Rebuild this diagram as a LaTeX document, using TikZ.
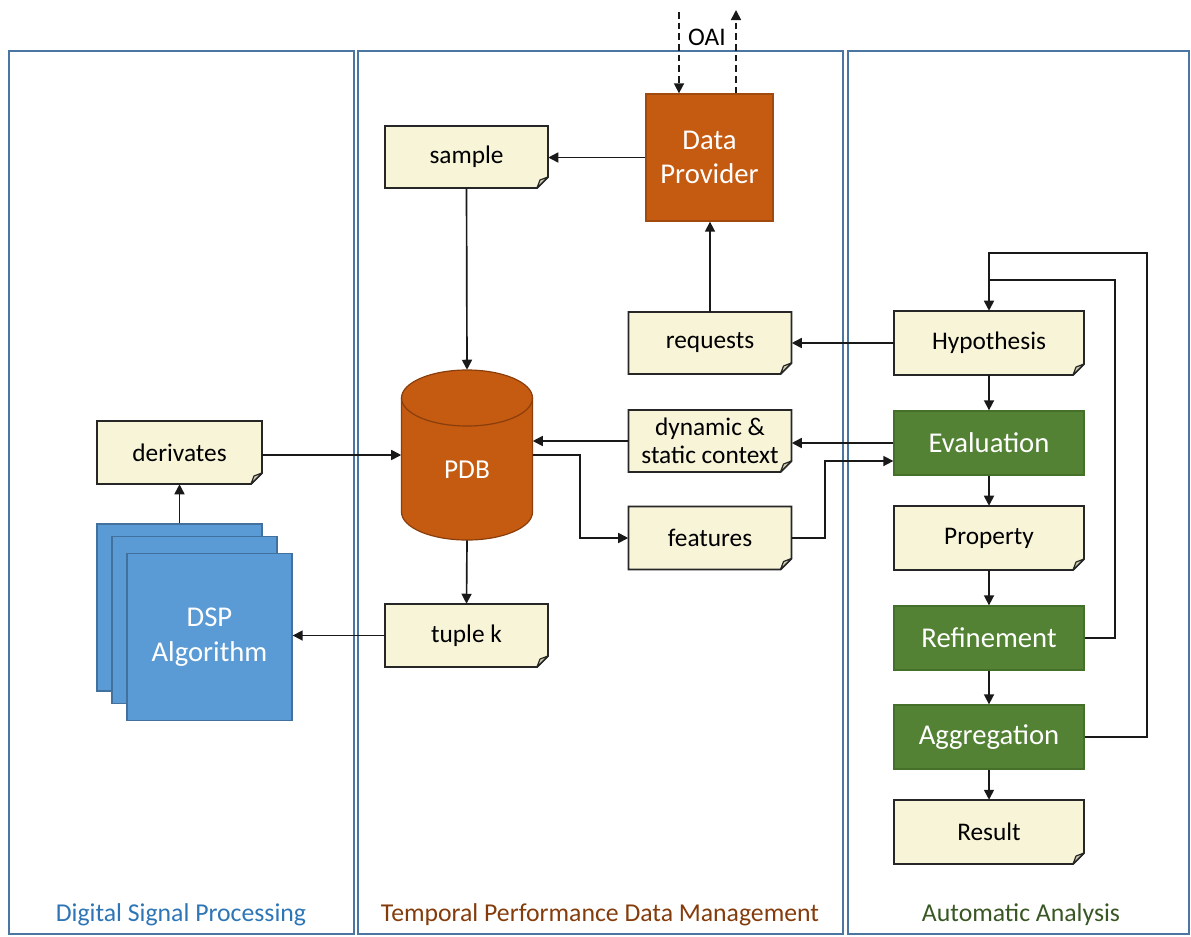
\documentclass[tikz,border=0pt]{standalone}
\usepackage{fontspec}
\setmainfont{Carlito}
\usetikzlibrary{arrows.meta,calc}
\definecolor{notefill}{HTML}{F8F4D8}
\definecolor{flapfill}{HTML}{D3CFB5}
\definecolor{dporange}{HTML}{C55A11}
\definecolor{dpborder}{HTML}{A04A10}
\definecolor{cylborder}{HTML}{8A3E0C}
\definecolor{aagreen}{HTML}{548235}
\definecolor{aaborder}{HTML}{44702A}
\definecolor{dspblue}{HTML}{5B9BD5}
\definecolor{dspborder}{HTML}{41719C}
\definecolor{panelouter}{HTML}{A9C0DA}
\definecolor{panelinner}{HTML}{4C76A2}
\definecolor{lblblue}{HTML}{2E75B6}
\definecolor{lblbrown}{HTML}{843C0C}
\definecolor{lblgreen}{HTML}{385723}
% note with a folded lower right corner:
% [node options]{name}{x}{y}{half width}{half height}{text}
\newcommand{\notebox}[7][]{%
  \filldraw[notebody] ({#3-#5},{#4-#6}) -- ({#3+#5},{#4-#6}) -- ({#3+#5},{#4+#6-11})
    -- ({#3+#5-11},{#4+#6}) -- ({#3-#5},{#4+#6}) -- cycle;
  \filldraw[noteflap] ({#3+#5-11},{#4+#6}) -- ({#3+#5},{#4+#6-11})
    -- ({#3+#5-8},{#4+#6-8}) -- cycle;
  \node[notetext, minimum width={#5*1.5pt}, minimum height={#6*1.5pt}, #1] (#2) at (#3,#4) {#7};%
}
\begin{document}
\begin{tikzpicture}[x=0.75pt,y=-0.75pt,
  font=\fontsize{19}{23}\selectfont,
  arr/.style={-{Triangle[length=7.5pt,width=7.5pt]}, line width=1.25pt, draw=black!90},
  link/.style={line width=1.25pt, draw=black!90},
  notebody/.style={draw=black!85, line width=1.4pt, fill=notefill, line join=miter},
  noteflap/.style={draw=black!85, line width=0.9pt, fill=flapfill, line join=round},
  notetext/.style={rectangle, text=black, inner sep=2pt},
  greenbox/.style={rectangle, draw=aaborder, line width=1pt, fill=aagreen, text=white,
    minimum width=142.5pt, minimum height=48pt, font=\fontsize{21.5}{25}\selectfont},
  dpbox/.style={rectangle, draw=dpborder, line width=1pt, fill=dporange, text=white,
    minimum width=95.25pt, minimum height=95.25pt, align=center,
    font=\fontsize{21.5}{25.5}\selectfont},
  dspbox/.style={rectangle, draw=dspborder, line width=1pt, fill=dspblue, text=white,
    minimum width=123.75pt, minimum height=125.25pt, align=center,
    font=\fontsize{21.5}{26}\selectfont},
  panel/.style={draw=panelouter, line width=2pt},
  panelline/.style={draw=panelinner, line width=1pt},
  paneltitle/.style={font=\fontsize{19.3}{22}\selectfont}]
\useasboundingbox (0,0) rectangle (1191,936);

% swim lanes
\foreach \xa/\xb in {9/354, 358/843, 848/1189}{
  \draw[panel] (\xa,51) rectangle (\xb,934);
  \draw[panelline] (\xa,51) rectangle (\xb,934);
}
\node[paneltitle, text=lblblue] (lanedsp) at (181,915) {Digital Signal Processing};
\node[paneltitle, text=lblbrown] (lanepdm) at (600,915) {Temporal Performance Data Management};
\node[paneltitle, text=lblgreen] (laneaa) at (1021,915) {Automatic Analysis};

% performance database cylinder
\fill[dporange] (401.5,398) -- (401.5,512)
  arc[start angle=180, end angle=0, x radius=65.5, y radius=28] -- (532.5,398) -- cycle;
\fill[dporange] (467,398) ellipse [x radius=65.5, y radius=28];
\draw[cylborder, line width=0.9pt] (401.5,398) -- (401.5,512)
  arc[start angle=180, end angle=0, x radius=65.5, y radius=28] -- (532.5,398);
\draw[cylborder, line width=0.9pt] (467,398) ellipse [x radius=65.5, y radius=28];
\node[minimum width=98.25pt, minimum height=127.5pt, inner sep=0pt] (pdb) at (467,455) {};
\node[text=white, font=\fontsize{20.5}{24}\selectfont] (pdblabel) at (467,470) {PDB};

% DSP algorithm stack
\node[dspbox] (dsp1) at (179.5,607.5) {};
\node[dspbox] (dsp2) at (194.5,620) {};
\node[dspbox] (dsp3) at (209.5,637) {DSP\\Algorithm};

% data provider and notes
\node[dpbox] (dp) at (709.5,157.5) {Data\\Provider};
\notebox{sample}{466.5}{157}{81.5}{31}{sample}
\notebox{req}{710}{343}{81.5}{31}{requests}
\notebox[align=center, font=\fontsize{19}{21}\selectfont]{dyn}{710}{441}{81.5}{31}{dynamic \&\\static context}
\notebox{feat}{710}{538}{81.5}{31.5}{features}
\notebox{tuple}{466.5}{635.5}{81.5}{31.5}{tuple k}
\notebox{der}{179.5}{452.5}{82.5}{31.5}{derivates}

% automatic analysis chain
\notebox{hyp}{989}{343}{95}{32}{Hypothesis}
\node[greenbox] (eval) at (989,443) {Evaluation};
\notebox{prop}{989}{538}{95}{32}{Property}
\node[greenbox] (refi) at (989,638) {Refinement};
\node[greenbox] (aggr) at (989,737) {Aggregation};
\notebox{res}{989}{832}{95}{32}{Result}

% OAI interface
\coordinate (oaiin) at (679,12);
\coordinate (oaiout) at (736,10);
\draw[arr, dash pattern=on 5pt off 3pt] (oaiin) -- (oaiin |- dp.north);
\draw[arr, dash pattern=on 5pt off 3pt] (oaiout |- dp.north) -- (oaiout);
\node (oai) at (707,37) {OAI};

% data flow
\draw[arr] (dp.west) -- (dp.west -| sample.east);
\draw[arr] (sample.south) -- (pdb.north);
\draw[arr] (req.north) -- (req.north |- dp.south);
\draw[arr] (hyp.west) -- (hyp.west -| req.east);
\draw[arr] (eval.west) -- (eval.west -| dyn.east);
\draw[arr] (dyn.west) -- (dyn.west -| pdb.east);
\draw[arr] (pdb.east) -- ++(47,0) |- (feat.west);
\draw[arr] (feat.east) -- ++(33,0) |- ($(eval.west)+(0,18)$);
\draw[arr] (der.east |- pdb.east) -- (pdb.west);
\draw[arr] (dsp1.north) -- (der.south);
\draw[arr] (pdb.south) -- (tuple.north);
\draw[arr] (tuple.west) -- (tuple.west -| dsp3.east);

% analysis loop
\draw[arr] (hyp.south) -- (eval.north);
\draw[arr] (eval.south) -- (prop.north);
\draw[arr] (prop.south) -- (refi.north);
\draw[arr] (refi.south) -- (aggr.north);
\draw[arr] (aggr.south) -- (res.north);
\draw[arr] (refi.east) -- (1115,638) -- (1115,280) -- (989,280) -- (hyp.north);
\draw[link] (aggr.east) -- (1147,737) -- (1147,253) -- (989,253) -- (989,280);
\end{tikzpicture}
\end{document}
